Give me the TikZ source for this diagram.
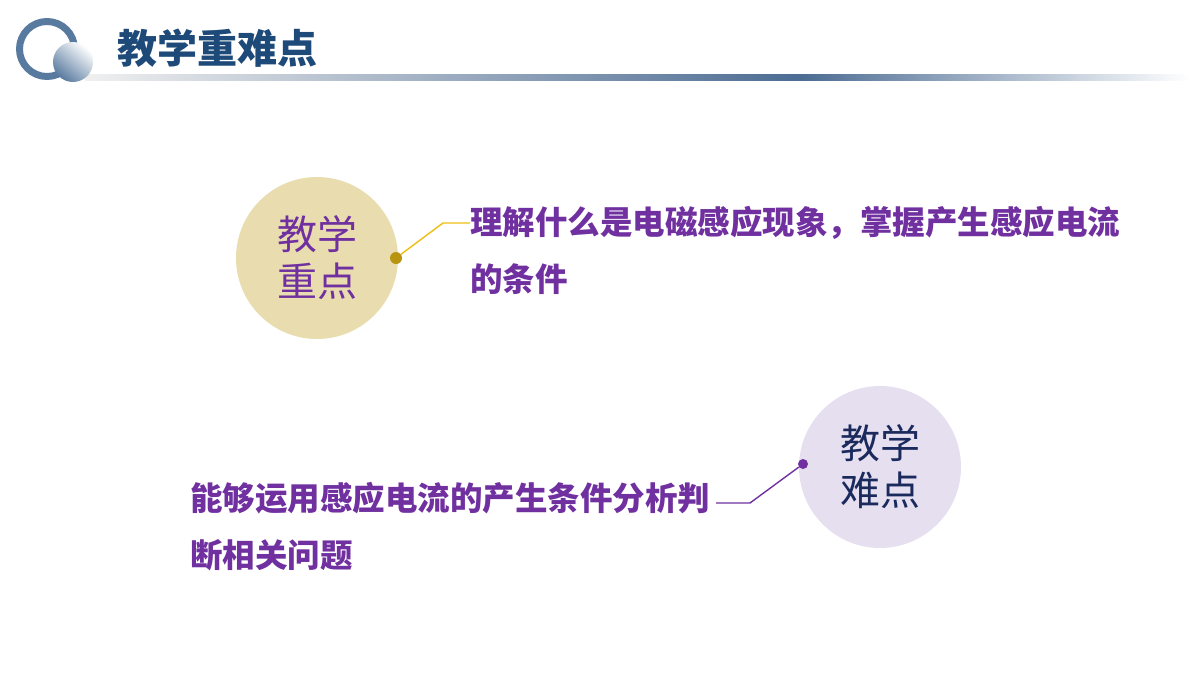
\documentclass[tikz,border=0pt]{standalone}
\usepackage{fontspec}
\setmainfont{Noto Sans CJK SC}
\usetikzlibrary{positioning, calc}

\definecolor{titleblue}{HTML}{1D4A78}
\definecolor{barblue}{HTML}{4C6C93}
\definecolor{ringblue}{HTML}{587A9F}
\definecolor{keypurple}{HTML}{7030A0}
\definecolor{keytan}{HTML}{E9DDB0}
\definecolor{keygold}{HTML}{EDBE12}
\definecolor{dotgold}{HTML}{B89410}
\definecolor{hardlilac}{HTML}{E6DFF0}
\definecolor{hardnavy}{HTML}{1B2A5C}

\begin{document}
\begin{tikzpicture}[
        x=1pt, y=-1pt,
        disc/.style={circle, minimum size=162pt, inner sep=0pt, align=center, font=\fontsize{40}{47}\selectfont},
        dot/.style={circle, inner sep=0pt, minimum size=#1},
        point/.style={align=left, inner sep=0pt, text=keypurple, font=\bfseries\fontsize{32.5}{57}\selectfont},
        link/.style={draw, line width=1.4pt}
    ]
        \useasboundingbox (0,0) rectangle (1200,675);

        % Header
        \shade[left color=gray!12, right color=barblue] (85,74) rectangle (800,80);
        \shade[left color=barblue, right color=white] (800,74) rectangle (1190,80);
        \draw[ringblue, line width=7pt] (47,49) circle (27.5);
        \shade[top color=white, bottom color=ringblue, shading angle=-40] (73,62) circle (20);
        \node[anchor=west, inner sep=0pt, text=titleblue, font=\bfseries\fontsize{40}{40}\selectfont] (title) at (117,48) {教学重难点};

        % Key points
        \node[disc, fill=keytan, text=keypurple] (key) at (317,258) {教学\\重点};
        \node[point, anchor=west] (keytext) at (470,250) {理解什么是电磁感应现象，掌握产生感应电流\\的条件};
        \node[dot=12pt, fill=dotgold] (keydot) at (396,258) {};
        \coordinate (keybend) at (443,223);
        \draw[link, keygold] (keydot) -- (keybend) -- (keybend -| keytext.west);

        % Difficult points
        \node[disc, fill=hardlilac, text=hardnavy] (hard) at (880,467) {教学\\难点};
        \node[point, anchor=west] (hardtext) at (190,527) {能够运用感应电流的产生条件分析判\\断相关问题};
        \node[dot=10pt, fill=keypurple] (harddot) at (803,464) {};
        \coordinate (hardbend) at (750,503);
        \coordinate (hardend) at (716,503);
        \draw[link, keypurple] (harddot) -- (hardbend) -- (hardend);
    \end{tikzpicture}
\end{document}
